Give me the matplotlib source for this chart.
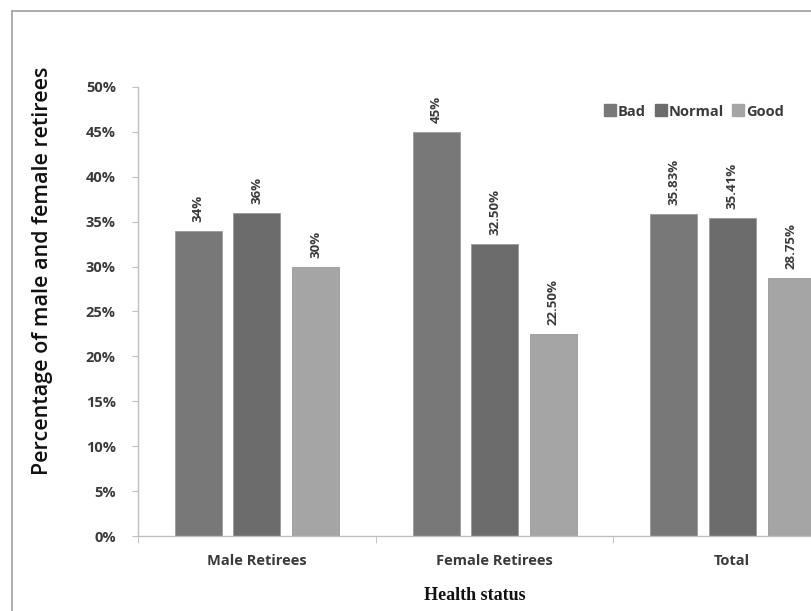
import matplotlib.pyplot as plt
import numpy as np
from matplotlib.lines import Line2D

groups = ["Male Retirees", "Female Retirees", "Total"]
series = ["Bad", "Normal", "Good"]
bad = [34.0, 45.0, 35.83]
normal = [36.0, 32.50, 35.41]
good = [30.0, 22.50, 28.75]
bad_labels = ["34%", "45%", "35.83%"]
normal_labels = ["36%", "32.50%", "35.41%"]
good_labels = ["30%", "22.50%", "28.75%"]
yticks = [0, 5, 10, 15, 20, 25, 30, 35, 40, 45, 50]

colors = ["#787878", "#6c6c6c", "#a5a5a5"]
text_color = "#3a3a3a"
sans = ["Open Sans", "DejaVu Sans"]

fig = plt.figure(figsize=(8.12, 6.11), dpi=100)
ax = fig.add_axes([0.170, 0.1227, 0.878, 0.735])

x = np.arange(len(groups))
offsets = [-0.246, 0.0, 0.248]
width = 0.198
all_vals = [bad, normal, good]
all_labels = [bad_labels, normal_labels, good_labels]
for vals, labs, off, col, name in zip(all_vals, all_labels, offsets, colors, series):
    bars = ax.bar(x + off, vals, width, color=col, edgecolor="#9a9a9a",
                  linewidth=0.6, label=name)
    for b, lab in zip(bars, labs):
        ax.text(b.get_x() + b.get_width() / 2, b.get_height() + 1.0, lab,
                rotation=90, ha="center", va="bottom", fontsize=9.5,
                fontweight="bold", color=text_color, family=sans)

ax.set_xlim(-0.5, 2.5)
ax.set_ylim(0, 50)
ax.set_yticks(yticks)
ax.set_yticklabels([f"{v}%" for v in yticks], fontsize=10.5, fontweight="bold",
                   color=text_color, family=sans)
ax.set_xticks(x)
ax.set_xticklabels(groups, fontsize=10.5, fontweight="bold", color=text_color,
                   family=sans)
ax.tick_params(axis="x", length=0, pad=13)
ax.tick_params(axis="y", length=4, color="#bfbfbf", pad=12)
# category separator ticks on the bottom axis
ax.set_xticks([-0.5, 0.5, 1.5, 2.5], minor=True)
ax.tick_params(axis="x", which="minor", length=5, color="#bfbfbf")

for side in ["top", "right"]:
    ax.spines[side].set_visible(False)
for side in ["left", "bottom"]:
    ax.spines[side].set_color("#bfbfbf")
    ax.spines[side].set_linewidth(1.0)

fig.text(0.052, 0.556, "Percentage of male and female retirees", rotation=90,
         ha="center", va="center", fontsize=15.5, fontweight="semibold",
         color="#111111", family=sans)
fig.text(0.585, 0.012, "Health status", ha="center", va="bottom", fontsize=13,
         fontweight="bold", color="#111111", family="Liberation Serif")

handles = [Line2D([], [], marker="s", linestyle="none", markersize=8,
                  markerfacecolor=c, markeredgecolor=c) for c in colors]
leg = ax.legend(handles, series, loc="upper right", ncol=3, frameon=False,
                bbox_to_anchor=(0.925, 0.99), handletextpad=0.25,
                columnspacing=0.7, handlelength=0.6,
                prop={"family": sans, "weight": "bold", "size": 10.5})
for t in leg.get_texts():
    t.set_color(text_color)

# outer frame of the original figure (left and top edges visible)
fig.add_artist(Line2D([0.015, 0.015], [0, 0.982], transform=fig.transFigure,
                      color="#a0a0a0", linewidth=1.2))
fig.add_artist(Line2D([0.015, 1.0], [0.982, 0.982], transform=fig.transFigure,
                      color="#a0a0a0", linewidth=1.2))

fig.savefig("out.png", dpi=100)
